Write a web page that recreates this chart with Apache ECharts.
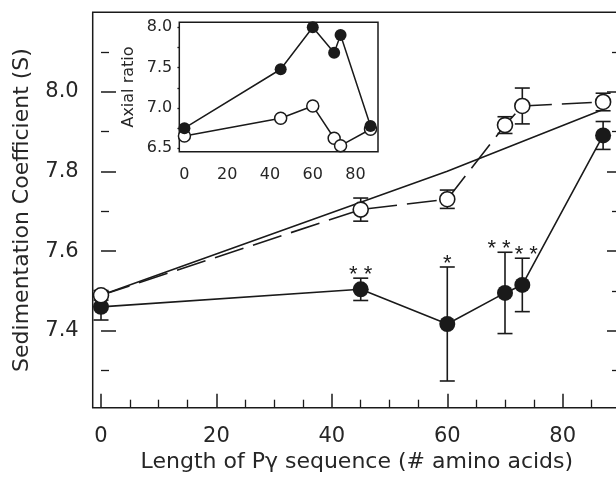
<!DOCTYPE html>
<html>
<head>
<meta charset="utf-8">
<script src="https://cdn.jsdelivr.net/npm/echarts@6/dist/echarts.min.js"></script>
<style>
html,body{margin:0;padding:0;overflow:hidden;background:#fff;}
#chart{width:630px;height:483px;}
</style>
</head>
<body>
<div id="chart"></div>
<script>
// ---- data ----
var lengths = [0, 45, 60, 70, 73, 87];
var filledS = [7.460, 7.504, 7.417, 7.495, 7.515, 7.890];
var filledErr = [0.033, 0.028, 0.143, 0.102, 0.067, 0.035];
var openS = [7.489, 7.704, 7.730, 7.916, 7.964, 7.974];
var openErr = [0.012, 0.029, 0.023, 0.021, 0.045, 0.022];
var theoryX = [0, 60, 87];
var theoryS = [7.489, 7.800, 7.955];
var starX = [45, 60, 70, 73];
var starText = ['* *', '*', '* *', '* *'];
var insetFilled = [6.750, 7.480, 8.000, 7.685, 7.905, 6.777];
var insetOpen = [6.653, 6.872, 7.025, 6.625, 6.533, 6.736];
var xMajorTicks = [0, 20, 40, 60, 80];
var xMinorTicks = [5, 10, 15, 25, 30, 35, 45, 50, 55, 65, 70, 75, 85, 90];
var yMajorTicks = [7.4, 7.6, 7.8, 8.0];
var yMinorTicks = [7.3, 7.5, 7.7, 7.9, 8.1];
var insetXTicks = [0, 20, 40, 60, 80];
var insetYLabels = [6.5, 7.0, 7.5, 8.0];
var insetYTicks = [6.5, 6.75, 7.0, 7.25, 7.5, 7.75, 8.0];

// ---- build ----
var INK = '#1a1a1a';
var TXT = '#262626';
var FONT = '"DejaVu Sans", Verdana, sans-serif';

function pairs(xs, ys) { return xs.map(function (x, i) { return [x, ys[i]]; }); }
function errData(xs, ys, es) { return xs.map(function (x, i) { return [x, ys[i] - es[i], ys[i] + es[i]]; }); }
function starData() {
  return starX.map(function (x, i) {
    var k = lengths.indexOf(x);
    return [x, filledS[k] + filledErr[k], i];
  });
}

var XMIN = -1.44, XMAX = 90.1, YMIN = 7.207, YMAX = 8.199;
var IXMIN = -2.4, IXMAX = 90.5, IYMIN = 6.458, IYMAX = 8.062;

function baseAxis(grid, min, max) {
  return { type: 'value', gridIndex: grid, min: min, max: max, splitLine: { show: false },
    axisLine: { show: false } };
}

var xAxes = [
  Object.assign(baseAxis(0, XMIN, XMAX), {
    position: 'bottom',
    axisTick: { show: true, inside: true, length: 14, customValues: xMajorTicks, lineStyle: { color: INK, width: 1.5 } },
    axisLabel: { show: true, customValues: xMajorTicks, margin: 18, fontSize: 21, color: TXT, fontFamily: FONT },
    name: 'Length of P\u03b3 sequence (# amino acids)', nameLocation: 'middle', nameGap: 43,
    nameTextStyle: { fontSize: 22, color: TXT, fontFamily: FONT }
  }),
  Object.assign(baseAxis(0, XMIN, XMAX), {
    position: 'bottom',
    axisTick: { show: true, inside: true, length: 8, customValues: xMinorTicks, lineStyle: { color: INK, width: 1.3 } },
    axisLabel: { show: false }
  }),
  Object.assign(baseAxis(1, IXMIN, IXMAX), {
    position: 'bottom',
    axisTick: { show: true, inside: true, length: 8, customValues: insetXTicks, lineStyle: { color: INK, width: 1.3 } },
    axisLabel: { show: true, customValues: insetXTicks, margin: 15, fontSize: 16, color: TXT, fontFamily: FONT }
  }),
  Object.assign(baseAxis(1, IXMIN, IXMAX), {
    position: 'top',
    axisTick: { show: true, inside: true, length: 9, customValues: insetXTicks, lineStyle: { color: INK, width: 1.3 } },
    axisLabel: { show: false }
  })
];

var yAxes = [
  Object.assign(baseAxis(0, YMIN, YMAX), {
    position: 'left',
    axisTick: { show: true, inside: true, length: 15, customValues: yMajorTicks, lineStyle: { color: INK, width: 1.5 } },
    axisLabel: { show: true, customValues: yMajorTicks, margin: 14, fontSize: 21, color: TXT, fontFamily: FONT,
      formatter: function (v) { return Number(v).toFixed(1); } },
    name: 'Sedimentation Coefficient (S)', nameLocation: 'middle', nameGap: 59,
    nameTextStyle: { fontSize: 22, color: TXT, fontFamily: FONT }
  }),
  Object.assign(baseAxis(0, YMIN, YMAX), {
    position: 'left',
    axisTick: { show: true, inside: true, length: 8, customValues: yMinorTicks, lineStyle: { color: INK, width: 1.3 } },
    axisLabel: { show: false }
  }),
  Object.assign(baseAxis(0, YMIN, YMAX), {
    position: 'right',
    axisTick: { show: true, inside: true, length: 14, customValues: yMajorTicks, lineStyle: { color: INK, width: 1.5 } },
    axisLabel: { show: false }
  }),
  Object.assign(baseAxis(0, YMIN, YMAX), {
    position: 'right',
    axisTick: { show: true, inside: true, length: 9, customValues: yMinorTicks, lineStyle: { color: INK, width: 1.3 } },
    axisLabel: { show: false }
  }),
  Object.assign(baseAxis(1, IYMIN, IYMAX), {
    position: 'left',
    axisTick: { show: true, inside: true, length: 7, customValues: insetYTicks, lineStyle: { color: INK, width: 1.3 } },
    axisLabel: { show: true, customValues: insetYLabels, margin: 7, fontSize: 16, color: TXT, fontFamily: FONT,
      formatter: function (v) { return Number(v).toFixed(1); } },
    name: 'Axial ratio', nameLocation: 'middle', nameGap: 42,
    nameTextStyle: { fontSize: 16, color: TXT, fontFamily: FONT }
  }),
  Object.assign(baseAxis(1, IYMIN, IYMAX), {
    position: 'right',
    axisTick: { show: true, inside: true, length: 7, customValues: insetYTicks, lineStyle: { color: INK, width: 1.3 } },
    axisLabel: { show: false }
  })
];

function errorSeries(name, xs, ys, es, z) {
  return {
    name: name, type: 'custom', xAxisIndex: 0, yAxisIndex: 0, z: z,
    data: errData(xs, ys, es),
    encode: { x: 0, y: [1, 2] },
    renderItem: function (params, api) {
      var x = api.value(0);
      var lo = api.coord([x, api.value(1)]);
      var hi = api.coord([x, api.value(2)]);
      var w = 7.5;
      var st = { stroke: INK, lineWidth: 1.6 };
      return { type: 'group', children: [
        { type: 'line', shape: { x1: lo[0], y1: lo[1], x2: hi[0], y2: hi[1] }, style: st },
        { type: 'line', shape: { x1: lo[0] - w, y1: lo[1], x2: lo[0] + w, y2: lo[1] }, style: st },
        { type: 'line', shape: { x1: hi[0] - w, y1: hi[1], x2: hi[0] + w, y2: hi[1] }, style: st }
      ] };
    }
  };
}

var option = {
  animation: false,
  backgroundColor: '#fff',
  grid: [
    { left: 92.7, top: 12.3, width: 528.3, height: 395.4, show: true, borderColor: INK, borderWidth: 1.5, backgroundColor: 'transparent', containLabel: false },
    { left: 179.3, top: 22.3, width: 198.7, height: 129.4, show: true, borderColor: INK, borderWidth: 1.5, backgroundColor: '#fff', containLabel: false, z: 5 }
  ],
  xAxis: xAxes,
  yAxis: yAxes,
  series: [
    { name: 'theory', type: 'line', xAxisIndex: 0, yAxisIndex: 0, z: 2, showSymbol: false, symbol: 'none',
      data: pairs(theoryX, theoryS), lineStyle: { color: INK, width: 1.6 } },
    { name: 'open line', type: 'line', xAxisIndex: 0, yAxisIndex: 0, z: 2, showSymbol: false, symbol: 'none',
      data: pairs(lengths, openS), lineStyle: { color: INK, width: 1.6, type: [30, 10] } },
    { name: 'filled line', type: 'line', xAxisIndex: 0, yAxisIndex: 0, z: 2, showSymbol: false, symbol: 'none',
      data: pairs(lengths, filledS), lineStyle: { color: INK, width: 1.6 } },
    errorSeries('filled err', lengths, filledS, filledErr, 3),
    errorSeries('open err', lengths, openS, openErr, 3),
    { name: 'filled', type: 'scatter', xAxisIndex: 0, yAxisIndex: 0, z: 4, symbol: 'circle', symbolSize: 16,
      data: pairs(lengths, filledS), itemStyle: { color: INK, borderColor: INK, borderWidth: 0, opacity: 1 } },
    { name: 'open', type: 'scatter', xAxisIndex: 0, yAxisIndex: 0, z: 5, symbol: 'circle', symbolSize: 15,
      data: pairs(lengths, openS), itemStyle: { color: '#fff', borderColor: INK, borderWidth: 1.6, opacity: 1 } },
    { name: 'stars', type: 'custom', xAxisIndex: 0, yAxisIndex: 0, z: 6,
      data: starData(), encode: { x: 0, y: 1 },
      renderItem: function (params, api) {
        var x = api.value(0);
        var p = api.coord([x, api.value(1)]);
        var dx = x === 70 ? -6 : (x === 73 ? 4 : 0);
        return { type: 'text', x: p[0] + dx, y: p[1] + 8,
          style: { text: starText[api.value(2)], fontSize: 22, fontFamily: '"Liberation Sans", Arial, sans-serif', fill: INK,
            textAlign: 'center', textVerticalAlign: 'bottom' } };
      }
    },
    { name: 'inset open', type: 'line', xAxisIndex: 2, yAxisIndex: 4, z: 7,
      data: pairs(lengths, insetOpen), symbol: 'circle', symbolSize: 12, showSymbol: true,
      lineStyle: { color: INK, width: 1.5 }, itemStyle: { color: '#fff', borderColor: INK, borderWidth: 1.5 } },
    { name: 'inset filled', type: 'line', xAxisIndex: 2, yAxisIndex: 4, z: 8,
      data: pairs(lengths, insetFilled), symbol: 'circle', symbolSize: 12, showSymbol: true,
      lineStyle: { color: INK, width: 1.5 }, itemStyle: { color: INK, borderColor: INK, borderWidth: 0 } }
  ]
};

var chart = echarts.init(document.getElementById('chart'), null, { renderer: 'canvas' });
chart.setOption(option);
</script>
</body>
</html>
